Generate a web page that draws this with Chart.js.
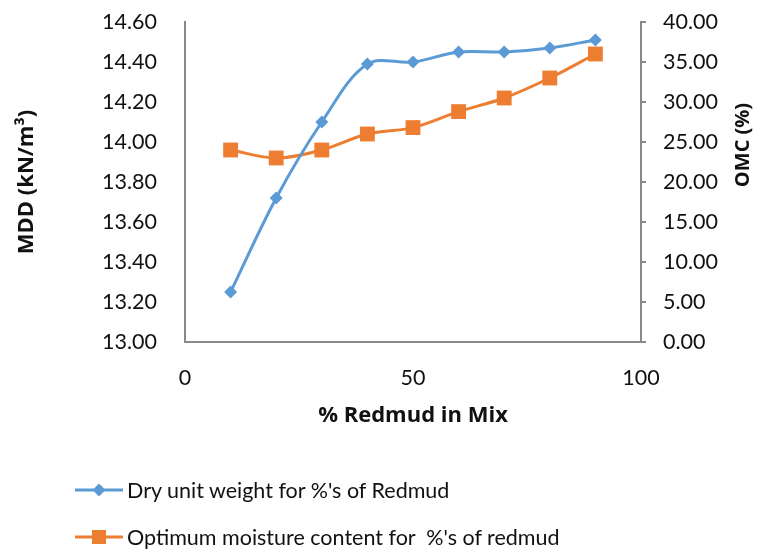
<!DOCTYPE html>
<html>
<head>
<meta charset="utf-8">
<script src="https://cdn.jsdelivr.net/npm/chart.js@4"></script>
<style>
    html, body { margin: 0; padding: 0; background: #fff; }
    #wrap { position: relative; width: 758px; height: 553px; }
    #chart { position: absolute; left: 0; top: 0; }
    .legend-row { position: absolute; left: 75px; height: 24px; display: flex; align-items: center; font-family: Lato, sans-serif; font-size: 21.5px; color: #111; white-space: pre; }
    .legend-row canvas { margin-right: 4px; }
</style>
</head>
<body>
<div id="wrap">
    <canvas id="chart" width="758" height="553"></canvas>
    <div class="legend-row" style="top: 478px;"><canvas id="sym0" width="48" height="24"></canvas><span id="lab0"></span></div>
    <div class="legend-row" style="top: 525px;"><canvas id="sym1" width="48" height="24"></canvas><span id="lab1"></span></div>
</div>
<script>
// data
const redmudPct = [10, 20, 30, 40, 50, 60, 70, 80, 90];
const mddValues = [13.25, 13.72, 14.10, 14.39, 14.40, 14.45, 14.45, 14.47, 14.51];
const omcValues = [24.0, 23.0, 24.0, 26.0, 26.8, 28.8, 30.5, 33.0, 36.0];

const seriesNames = ['Dry unit weight for %\'s of Redmud', 'Optimum moisture content for  %\'s of redmud'];
const xTitle = '% Redmud in Mix';
const leftTitle = 'MDD (kN/m\u00B3)';
const rightTitle = 'OMC (%)';

const blue = '#5B9BD5';
const orange = '#ED7D31';
const axisGrey = '#898989';
const font = 'Lato, sans-serif';
const titleFont = '"Open Sans", sans-serif';

window.onload = function() {
    const ctx = document.getElementById('chart').getContext('2d');

    // right axis title reads bottom-to-top in the original, so draw it by hand
    const rightTitlePlugin = {
        id: 'rightTitle',
        afterDraw(chart) {
            const c = chart.ctx;
            c.save();
            c.translate(743, 145);
            c.rotate(-Math.PI / 2);
            c.font = 'bold 20px ' + titleFont;
            c.fillStyle = '#111';
            c.textAlign = 'center';
            c.textBaseline = 'middle';
            c.fillText(rightTitle, 0, 0);
            c.restore();
        }
    };

    // tick padding also pads the chart top, so drop it
    function noVertPad(s) {
        s.paddingTop = 0;
        s.paddingBottom = 0;
    }

    new Chart(ctx, {
        type: 'line',
        data: {
            datasets: [{
                label: seriesNames[0],
                data: redmudPct.map((x, i) => ({ x: x, y: mddValues[i] })),
                borderColor: blue,
                backgroundColor: blue,
                borderWidth: 3,
                pointStyle: 'rectRot',
                pointRadius: 6.5,
                pointBorderWidth: 0,
                tension: 0.35,
                fill: false,
                yAxisID: 'y'
            }, {
                label: seriesNames[1],
                data: redmudPct.map((x, i) => ({ x: x, y: omcValues[i] })),
                borderColor: orange,
                backgroundColor: orange,
                borderWidth: 3,
                pointStyle: 'rect',
                pointRadius: 10.5,
                pointBorderWidth: 0,
                tension: 0.35,
                fill: false,
                yAxisID: 'y1'
            }]
        },
        options: {
            responsive: false,
            animation: false,
            layout: { padding: { left: 14, top: 22, right: 0, bottom: 124 } },
            plugins: {
                legend: { display: false },
                tooltip: { enabled: false }
            },
            scales: {
                x: {
                    type: 'linear',
                    min: 0,
                    max: 100,
                    ticks: { stepSize: 50, padding: 23, color: '#111', font: { family: font, size: 21.5 } },
                    grid: { display: false, drawTicks: false },
                    border: { display: true, color: axisGrey, width: 2 },
                    title: { display: true, text: xTitle, color: '#111', font: { family: titleFont, size: 22, weight: 'bold' }, padding: 0 },
                    afterFit: function(s) { s.height = 87; }
                },
                y: {
                    position: 'left',
                    min: 13,
                    max: 14.6,
                    ticks: { stepSize: 0.2, padding: 28, color: '#111', font: { family: font, size: 21.5 },
                        callback: v => v.toFixed(2) },
                    grid: { display: false, drawTicks: false },
                    border: { display: true, color: axisGrey, width: 2 },
                    title: { display: true, text: leftTitle, color: '#111', font: { family: titleFont, size: 22, weight: 'bold' }, padding: 0 },
                    afterFit: function(s) { s.width = 171; noVertPad(s); }
                },
                y1: {
                    position: 'right',
                    min: 0,
                    max: 40,
                    ticks: { stepSize: 5, padding: 17, color: '#111', font: { family: font, size: 21.5 },
                        callback: v => v.toFixed(2) },
                    grid: { display: true, drawOnChartArea: false, drawTicks: true, tickLength: 5, color: axisGrey, lineWidth: 2 },
                    border: { display: true, color: axisGrey, width: 2 },
                    afterFit: function(s) { s.width = 117; noVertPad(s); }
                }
            }
        },
        plugins: [rightTitlePlugin]
    });

    // legend symbols: line with marker
    function drawSymbol(id, color, square) {
        const c = document.getElementById(id).getContext('2d');
        c.strokeStyle = color;
        c.fillStyle = color;
        c.lineWidth = 3;
        c.beginPath();
        c.moveTo(0, 12);
        c.lineTo(48, 12);
        c.stroke();
        c.beginPath();
        if (square) {
            c.rect(24 - 7, 12 - 7, 14, 14);
        } else {
            c.moveTo(24, 12 - 6.5);
            c.lineTo(24 + 6.5, 12);
            c.lineTo(24, 12 + 6.5);
            c.lineTo(24 - 6.5, 12);
            c.closePath();
        }
        c.fill();
    }
    drawSymbol('sym0', blue, false);
    drawSymbol('sym1', orange, true);
    document.getElementById('lab0').textContent = seriesNames[0];
    document.getElementById('lab1').textContent = seriesNames[1];
};
</script>
</body>
</html>
